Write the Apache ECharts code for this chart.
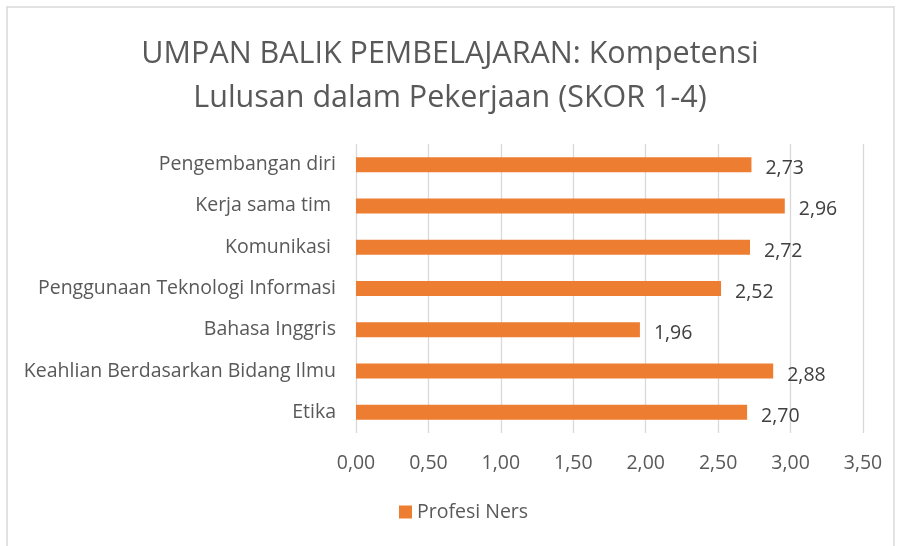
<!DOCTYPE html>
<html>
<head>
<meta charset="utf-8">
<script src="https://cdn.jsdelivr.net/npm/echarts@6/dist/echarts.min.js"></script>
<style>
  html, body { margin: 0; padding: 0; background: #fff; }
  #chart { width: 900px; height: 546px; }
</style>
</head>
<body>
<div id="chart"></div>
<script>
// data, bottom to top as in the picture
const categories = [
  'Etika',
  'Keahlian Berdasarkan Bidang Ilmu',
  'Bahasa Inggris',
  'Penggunaan Teknologi Informasi',
  'Komunikasi ',
  'Kerja sama tim ',
  'Pengembangan diri'
];
const seriesName = 'Profesi Ners';
const values = [2.70, 2.88, 1.96, 2.52, 2.72, 2.96, 2.73];
const titleLines = ['UMPAN BALIK PEMBELAJARAN: Kompetensi', 'Lulusan dalam Pekerjaan (SKOR 1-4)'];

const font = '"Open Sans", sans-serif';
const fmt = (v) => Number(v).toFixed(2).replace('.', ',');

const chart = echarts.init(document.getElementById('chart'));

chart.setOption({
  animation: false,
  title: {
    text: titleLines.join('\n'),
    left: 'center',
    top: 27,
    textStyle: {
      fontFamily: font,
      fontSize: 30.5,
      fontWeight: 'normal',
      color: '#595959',
      lineHeight: 44
    }
  },
  graphic: [
    {
      type: 'rect',
      shape: { x: 7, y: 7, width: 887, height: 560 },
      style: { fill: 'none', stroke: '#d9d9d9', lineWidth: 1.5 },
      silent: true
    }
  ],
  legend: {
    top: 502,
    left: 399,
    padding: 0,
    itemWidth: 13,
    itemHeight: 13,
    itemGap: 10,
    icon: 'rect',
    textStyle: { fontFamily: font, fontSize: 19.5, color: '#595959' },
    data: [seriesName]
  },
  grid: {
    left: 356,
    right: 37,
    top: 144,
    bottom: 113,
    containLabel: false
  },
  xAxis: {
    type: 'value',
    min: 0,
    max: 3.5,
    interval: 0.5,
    axisLine: { show: false },
    axisTick: { show: false },
    splitLine: { lineStyle: { color: '#d9d9d9', width: 1.3 } },
    axisLabel: {
      formatter: fmt,
      fontFamily: font,
      fontSize: 19.5,
      color: '#595959',
      margin: 20
    }
  },
  yAxis: {
    type: 'category',
    data: categories,
    axisLine: { show: false },
    axisTick: { show: false },
    axisLabel: {
      fontFamily: font,
      fontSize: 19.5,
      color: '#595959',
      margin: 20
    }
  },
  series: [
    {
      name: seriesName,
      type: 'bar',
      data: values,
      barWidth: 15,
      itemStyle: { color: '#ed7d31' },
      label: {
        show: true,
        position: 'right',
        distance: 14,
        formatter: (p) => fmt(p.value),
        fontFamily: font,
        fontSize: 19.5,
        color: '#404040',
        offset: [0, 4]
      }
    }
  ]
});
</script>
</body>
</html>
